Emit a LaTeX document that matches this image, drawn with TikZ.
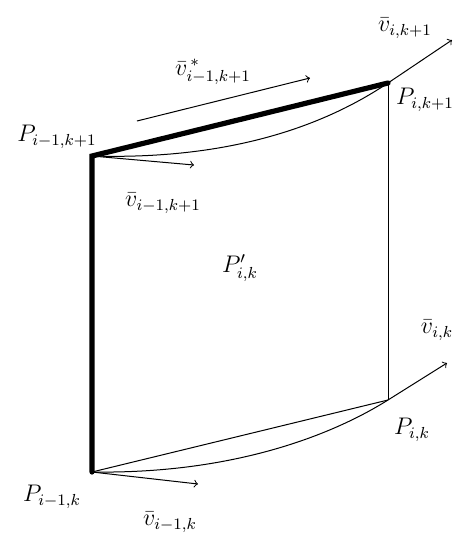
\documentclass[tikz,border=0pt]{standalone}
\usepackage{amsmath}
\begin{document}
\begin{tikzpicture}[x=0.5pt, y=-0.5pt, >=to, every node/.style={font=\large}]
  \useasboundingbox (0,0) rectangle (463,537);
  % corners of the patch
  \coordinate (Pmk1) at (92,156);
  \coordinate (Pk1) at (388,83);
  \coordinate (Pmk) at (92,472);
  \coordinate (Pk) at (388,400);
  % tips of the tangent vectors
  \coordinate (vk1) at (452,40);
  \coordinate (vk) at (447,363);
  \coordinate (vmk1) at (194,165);
  \coordinate (vmk) at (198,484);
  \coordinate (sA) at (137,121);
  \coordinate (sB) at (310,78);
  % edges
  \draw[line width=2.6pt, line cap=round] (Pmk) -- (Pmk1) -- (Pk1);
  \draw[line width=0.5pt] (Pk1) -- (Pk);
  \draw[line width=0.5pt] (Pmk) -- (Pk);
  % curves with their end vectors
  \draw[line width=0.5pt, ->] (Pmk1) .. controls (230,160) and (324,126) .. (Pk1) -- (vk1);
  \draw[line width=0.5pt, ->] (Pmk) .. controls (230,474) and (329,437) .. (Pk) -- (vk);
  \draw[line width=0.5pt, ->] (Pmk1) -- (vmk1);
  \draw[line width=0.5pt, ->] (Pmk) -- (vmk);
  \draw[line width=0.5pt, ->] (sA) -- (sB);
  % labels
  \node (lPmk1) at (57,137) {$P_{i-1,k+1}$};
  \node (lPk1) at (425,100) {$P_{i,k+1}$};
  \node (lvk1) at (405,28) {$\bar{v}_{i,k+1}$};
  \node (lvs) at (213,72) {$\bar{v}^{\,*}_{i-1,k+1}$};
  \node (lvmk1) at (163,203) {$\bar{v}_{i-1,k+1}$};
  \node (lPp) at (240,268) {$P'_{i,k}$};
  \node (lvk) at (437,330) {$\bar{v}_{i,k}$};
  \node (lPk) at (412,430) {$P_{i,k}$};
  \node (lPmk) at (52,497) {$P_{i-1,k}$};
  \node (lvmk) at (170,522) {$\bar{v}_{i-1,k}$};
\end{tikzpicture}
\end{document}
